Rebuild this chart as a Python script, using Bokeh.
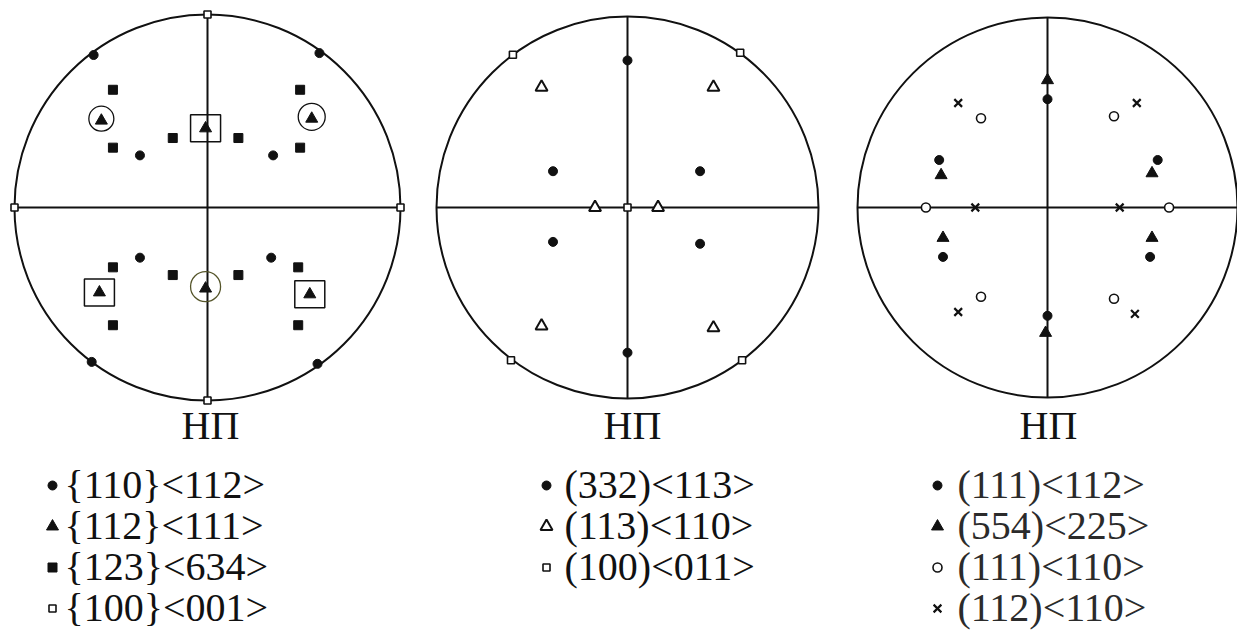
from bokeh.plotting import figure
from bokeh.layouts import row
from bokeh.models import Range1d
from bokeh.core.properties import value
from bokeh.embed import file_html
from bokeh.resources import INLINE

# ---------------------------------------------------------------------------
# Pole-figure data: normalized stereographic coordinates (unit circle = rim)
# ---------------------------------------------------------------------------

# Pole figure 1 — components {hkl}<uvw>
pf1_110_112_x = [-0.59, 0.58, -0.60, 0.57, -0.35, 0.34, -0.35, 0.33]
pf1_110_112_y = [0.79, 0.80, -0.80, -0.81, 0.27, 0.27, -0.26, -0.26]
pf1_112_111_x = [-0.55, -0.01, 0.54, -0.56, -0.01, 0.53]
pf1_112_111_y = [0.45, 0.41, 0.46, -0.44, -0.42, -0.45]
pf1_123_634_x = [-0.49, 0.48, -0.49, 0.48, -0.18, 0.16,
                 -0.49, 0.47, -0.18, 0.16, -0.49, 0.47]
pf1_123_634_y = [0.61, 0.61, 0.31, 0.31, 0.36, 0.36,
                 -0.31, -0.31, -0.35, -0.35, -0.61, -0.61]
pf1_100_001_x = [0.0, 0.0, -1.0, 1.0]
pf1_100_001_y = [1.0, -1.0, 0.0, 0.0]
# {112}<111> poles that are singled out: ringed ones and boxed ones
pf1_ringed = [0, 2, 4]
pf1_boxed = [1, 3, 5]
pf1_labels = ["{110}<112>", "{112}<111>", "{123}<634>", "{100}<001>"]

# Pole figure 2 — components (hkl)<uvw>
pf2_332_113_x = [0.0, 0.0, -0.39, 0.38, -0.39, 0.38]
pf2_332_113_y = [0.77, -0.76, 0.19, 0.19, -0.18, -0.19]
pf2_113_110_x = [-0.45, 0.45, -0.45, 0.45, -0.17, 0.16]
pf2_113_110_y = [0.63, 0.63, -0.62, -0.63, 0.0, 0.0]
pf2_100_011_x = [0.0, -0.60, 0.59, -0.61, 0.60]
pf2_100_011_y = [0.0, 0.80, 0.81, -0.80, -0.80]
pf2_labels = ["(332)<113>", "(113)<110>", "(100)<011>"]

# Pole figure 3 — components (hkl)<uvw>
pf3_111_112_x = [0.0, 0.0, -0.57, 0.58, -0.55, 0.54]
pf3_111_112_y = [0.57, -0.57, 0.25, 0.25, -0.26, -0.26]
pf3_554_225_x = [0.0, -0.01, -0.56, 0.55, -0.55, 0.55]
pf3_554_225_y = [0.67, -0.66, 0.17, 0.18, -0.16, -0.16]
pf3_111_110_x = [-0.35, 0.35, -0.35, 0.35, -0.64, 0.64]
pf3_111_110_y = [0.47, 0.48, -0.47, -0.48, 0.0, 0.0]
pf3_112_110_x = [-0.47, 0.47, -0.47, 0.46, -0.38, 0.38]
pf3_112_110_y = [0.55, 0.55, -0.55, -0.56, 0.0, 0.0]
pf3_labels = ["(111)<112>", "(554)<225>", "(111)<110>", "(112)<110>"]

direction_label = "НП"

# ---------------------------------------------------------------------------
# Styling and layout
# ---------------------------------------------------------------------------
H = 632
INK = "#111111"
SERIF = value("Liberation Serif")
TEXT_LIFT = 14  # px: the SVG text sits this much below the requested baseline

STYLE = {
    "dot":     dict(marker="circle", size=9, fill_color=INK, line_color=INK, line_width=1),
    "tri":     dict(marker="triangle", size=12, fill_color=INK, line_color=INK, line_width=1),
    "sq":      dict(marker="square", size=9, fill_color=INK, line_color=INK, line_width=1),
    "osq":     dict(marker="square", size=7, fill_color="white", line_color=INK, line_width=1.6),
    "otri":    dict(marker="triangle", size=12, fill_color="white", line_color=INK, line_width=2),
    "ocirc":   dict(marker="circle", size=9, fill_color="white", line_color=INK, line_width=1.6),
    "cross":   dict(marker="x", size=11, line_color=INK, line_width=2.2),
}


class Panel:
    """One pole figure: a figure whose data units are the unit circle."""

    def __init__(self, width, cx, cy, R):
        self.cx, self.cy, self.R = cx, cy, R
        self.p = figure(width=width, height=H, output_backend="svg",
                        toolbar_location=None, x_axis_type=None, y_axis_type=None,
                        x_range=Range1d(-cx / R, (width - cx) / R),
                        y_range=Range1d((cy - H) / R, cy / R),
                        min_border=0)
        self.p.grid.visible = False
        self.p.outline_line_color = None
        self.p.background_fill_color = "white"
        self.p.border_fill_color = "white"

    def dx(self, px):
        return (px - self.cx) / self.R

    def dy(self, py):
        return (self.cy - py) / self.R

    def frame(self, right_extend=1.0):
        p = self.p
        p.ellipse(x=0, y=0, width=2, height=2, fill_color=None,
                  line_color=INK, line_width=2)
        p.segment(x0=[-1.0, 0.0], y0=[0.0, -1.0], x1=[right_extend, 0.0], y1=[0.0, 1.0],
                  line_color=INK, line_width=2)

    def poles(self, xs, ys, style):
        self.p.scatter(x=xs, y=ys, **STYLE[style])

    def caption(self, x_px):
        self.p.text(x=[self.dx(x_px)], y=[self.dy(439 - TEXT_LIFT)], text=[direction_label],
                    text_font=SERIF, text_font_size="40px", text_align="center",
                    text_baseline="alphabetic", text_color=INK)

    def legend(self, labels, styles, mark_px, text_px, color=INK):
        baselines = [498, 539, 580, 621][:len(labels)]
        self.p.text(x=[self.dx(text_px)] * len(labels),
                    y=[self.dy(b - TEXT_LIFT) for b in baselines], text=labels,
                    text_font=SERIF, text_font_size="40px", text_align="left",
                    text_baseline="alphabetic", text_color=color)
        for b, st in zip(baselines, styles):
            self.p.scatter(x=[self.dx(mark_px)], y=[self.dy(b - 13)], **STYLE[st])


# --- Pole figure 1 ---------------------------------------------------------
a = Panel(417, 207, 207, 193)
a.frame()
a.poles(pf1_110_112_x, pf1_110_112_y, "dot")
a.poles(pf1_123_634_x, pf1_123_634_y, "sq")
a.poles(pf1_100_001_x, pf1_100_001_y, "osq")
a.poles(pf1_112_111_x, pf1_112_111_y, "tri")
a.p.scatter(x=[pf1_112_111_x[i] for i in pf1_ringed],
            y=[pf1_112_111_y[i] + 0.01 for i in pf1_ringed],
            marker="circle", size=[25, 27, 30], fill_color=None,
            line_color=[INK, INK, "#55552a"], line_width=1.3)
a.p.rect(x=[pf1_112_111_x[i] for i in pf1_boxed],
         y=[pf1_112_111_y[i] for i in pf1_boxed],
         width=30, height=27, width_units="screen", height_units="screen",
         fill_color=None, line_color=INK, line_width=1.5)
a.caption(210)
a.legend(pf1_labels, ["dot", "tri", "sq", "osq"], 52, 64)

# --- Pole figure 2 ---------------------------------------------------------
b = Panel(420, 210, 207, 191)
b.frame()
b.poles(pf2_332_113_x, pf2_332_113_y, "dot")
b.poles(pf2_113_110_x, pf2_113_110_y, "otri")
b.poles(pf2_100_011_x, pf2_100_011_y, "osq")
b.caption(215)
b.legend(pf2_labels, ["dot", "otri", "osq"], 129, 147)

# --- Pole figure 3 ---------------------------------------------------------
c = Panel(400, 210, 207, 190)
c.frame(right_extend=1.2)
c.poles(pf3_111_112_x, pf3_111_112_y, "dot")
c.poles(pf3_554_225_x, pf3_554_225_y, "tri")
c.poles(pf3_111_110_x, pf3_111_110_y, "ocirc")
c.poles(pf3_112_110_x, pf3_112_110_y, "cross")
c.caption(211)
c.legend(pf3_labels, ["dot", "tri", "ocirc", "cross"], 100, 120, color="#2b2b2b")

layout = row(a.p, b.p, c.p)
open("out.html", "w").write(file_html(layout, INLINE))
